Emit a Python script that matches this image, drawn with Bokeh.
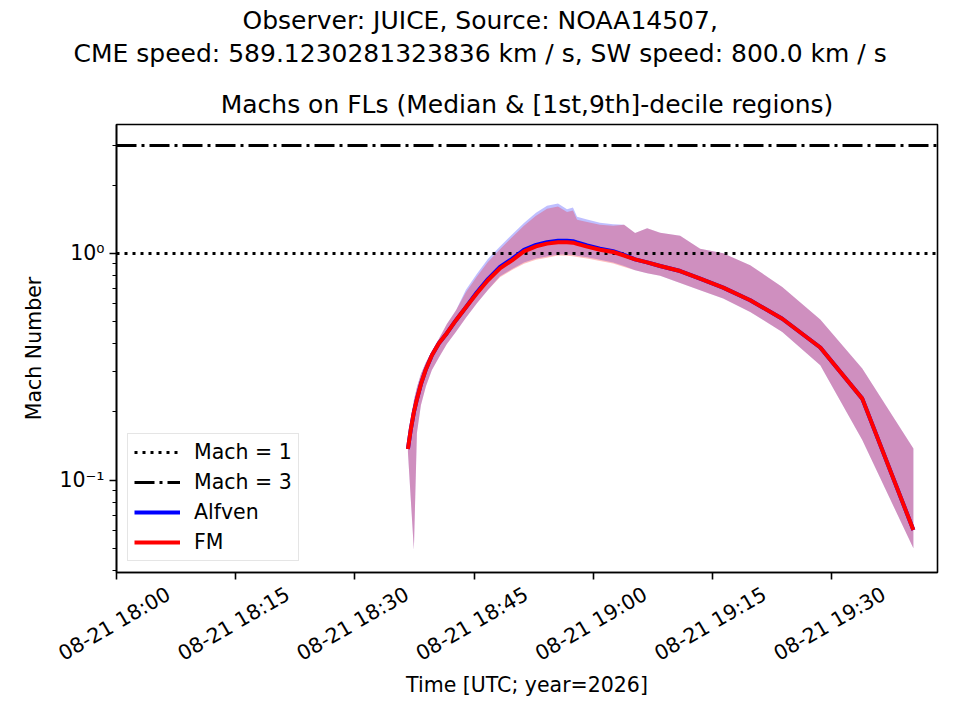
import math

import pandas as pd
from bokeh.embed import file_html
from bokeh.models import (DatetimeTickFormatter, FixedTicker, Legend, LegendItem, Range1d,
                          Title)
from bokeh.plotting import figure
from bokeh.resources import INLINE

FONT = "DejaVu Sans"
DAY = "2026-08-21 "

# tiempos de observacion (UTC, 2026-08-21)
obs_times = ["18:36:40", "18:37:02", "18:37:25", "18:37:48", "18:38:18", "18:38:56",
             "18:39:41", "18:40:34", "18:41:34", "18:42:43", "18:43:58", "18:45:21",
             "18:46:44", "18:48:15", "18:49:46", "18:51:16", "18:52:47", "18:54:10",
             "18:55:33", "18:56:41", "18:57:26", "18:57:57", "18:59:13", "19:00:50",
             "19:02:29", "19:03:52", "19:05:15", "19:06:46", "19:08:24", "19:10:55",
             "19:13:26", "19:16:20", "19:19:44", "19:23:46", "19:28:33", "19:33:50",
             "19:40:16"]

# Mach rapido-magnetosonico (FM): mediana, decil 1 y decil 9
fm_median = [0.1370, 0.1678, 0.1994, 0.2274, 0.2648, 0.3083, 0.3553, 0.4015, 0.4443,
             0.5069, 0.5782, 0.6665, 0.7605, 0.8589, 0.9314, 1.0205, 1.0736, 1.1034,
             1.1180, 1.1203, 1.1146, 1.1013, 1.0703, 1.0372, 1.0133, 0.9779, 0.9409,
             0.9126, 0.8792, 0.8355, 0.7729, 0.7060, 0.6209, 0.5146, 0.3842, 0.2286,
             0.0602]
fm_p10 = [0.1329, 0.0816, 0.0491, 0.1611, 0.2140, 0.2589, 0.3058, 0.3467, 0.3978,
          0.4510, 0.5194, 0.6022, 0.6890, 0.7838, 0.8432, 0.8991, 0.9362, 0.9563,
          0.9770, 0.9750, 0.9700, 0.9641, 0.9495, 0.9249, 0.9009, 0.8700, 0.8415,
          0.8163, 0.7960, 0.7400, 0.6877, 0.6317, 0.5512, 0.4500, 0.3210, 0.1500,
          0.0500]
fm_p90 = [0.1412, 0.1837, 0.2251, 0.2568, 0.2939, 0.3311, 0.3700, 0.4202, 0.4883,
          0.5609, 0.6733, 0.7895, 0.9166, 1.0414, 1.1763, 1.3216, 1.4636, 1.5737,
          1.6106, 1.5201, 1.5467, 1.4071, 1.3745, 1.3353, 1.3216, 1.3379, 1.2284,
          1.2912, 1.2309, 1.1942, 1.0478, 1.0000, 0.8854, 0.7107, 0.5105, 0.3105,
          0.1379]

# Mach de Alfven: mediana, decil 1 y decil 9
alf_median = [0.1370, 0.1678, 0.1994, 0.2274, 0.2648, 0.3083, 0.3553, 0.4015, 0.4443,
              0.5069, 0.5782, 0.6740, 0.7700, 0.8710, 0.9450, 1.0360, 1.0900, 1.1200,
              1.1350, 1.1370, 1.1310, 1.1170, 1.0840, 1.0480, 1.0220, 0.9850, 0.9409,
              0.9126, 0.8792, 0.8355, 0.7729, 0.7060, 0.6209, 0.5146, 0.3842, 0.2286,
              0.0602]
alf_p10 = [0.1329, 0.0816, 0.0491, 0.1611, 0.2140, 0.2589, 0.3058, 0.3467, 0.3978,
           0.4510, 0.5194, 0.6022, 0.6890, 0.7930, 0.8530, 0.9100, 0.9480, 0.9680,
           0.9890, 0.9870, 0.9820, 0.9760, 0.9610, 0.9360, 0.9110, 0.8790, 0.8415,
           0.8163, 0.7960, 0.7400, 0.6877, 0.6317, 0.5512, 0.4500, 0.3210, 0.1500,
           0.0500]
alf_p90 = [0.1412, 0.1837, 0.2251, 0.2568, 0.2939, 0.3311, 0.3700, 0.4202, 0.4883,
           0.5609, 0.6900, 0.8130, 0.9440, 1.0730, 1.2120, 1.3610, 1.5080, 1.6200,
           1.6580, 1.5640, 1.5920, 1.4480, 1.4100, 1.3650, 1.3450, 1.3379, 1.2284,
           1.2912, 1.2309, 1.1942, 1.0478, 1.0000, 0.8854, 0.7107, 0.5105, 0.3105,
           0.1379]

mach_levels = [1.0, 3.0]
x_tick_times = ["18:00", "18:15", "18:30", "18:45", "19:00", "19:15", "19:30"]
y_major = [0.1, 1.0]
y_major_labels = ["10\u207b\u00b9", "10\u2070"]
y_minor = [0.04, 0.05, 0.06, 0.07, 0.08, 0.09, 0.2, 0.3, 0.4, 0.5, 0.6, 0.7, 0.8, 0.9,
           2.0, 3.0]

t = pd.to_datetime([DAY + s for s in obs_times])
x_start = pd.Timestamp(DAY + "18:00:00")
x_end = pd.Timestamp(DAY + "19:43:18")

# las etiquetas giradas de Bokeh se anclan por su extremo derecho; se desplazan
# con un rango auxiliar para que queden centradas bajo cada marca
LABEL_SHIFT = pd.Timedelta(seconds=393)


def ms(ts):
    return ts.value / 1e6


p = figure(width=960, height=720, title=None,
           x_axis_type="datetime", y_axis_type="log",
           x_range=Range1d(x_start, x_end), y_range=Range1d(0.0391, 3.70),
           output_backend="svg", toolbar_location=None,
           min_border_left=116, min_border_right=23, min_border_top=124,
           min_border_bottom=148)
p.extra_x_ranges = {"lab": Range1d(x_start - LABEL_SHIFT, x_end - LABEL_SHIFT)}

# bandas de deciles
p.varea(x=t, y1=alf_p10, y2=alf_p90, fill_color="blue", fill_alpha=0.25)
p.varea(x=t, y1=fm_p10, y2=fm_p90, fill_color="red", fill_alpha=0.25)

r_m1 = p.hspan(y=[mach_levels[0]], line_color="black", line_width=3, line_dash="3 5")
r_m3 = p.hspan(y=[mach_levels[1]], line_color="black", line_width=3, line_dash="20 5 3 5")
r_alf = p.line(t, alf_median, line_color="blue", line_width=4)
r_fm = p.line(t, fm_median, line_color="red", line_width=4)

legend = Legend(items=[LegendItem(label="Mach = 1", renderers=[r_m1]),
                       LegendItem(label="Mach = 3", renderers=[r_m3]),
                       LegendItem(label="Alfven", renderers=[r_alf]),
                       LegendItem(label="FM", renderers=[r_fm])],
                location="bottom_left")
legend.label_text_font = FONT
legend.label_text_font_size = "20.5px"
legend.label_text_color = "black"
legend.glyph_width = 46
legend.glyph_height = 22
legend.label_height = 22
legend.spacing = 6
legend.padding = 6
legend.label_standoff = 14
legend.margin = 11
legend.border_line_color = "#cccccc"
legend.border_line_width = 1.5
legend.background_fill_alpha = 0.8
p.add_layout(legend)

# titulos: el primero queda pegado al marco
p.add_layout(Title(text="Machs on FLs (Median & [1st,9th]-decile regions)", align="center",
                   text_font=FONT, text_font_size="25px", text_font_style="normal",
                   text_color="black", standoff=12), "above")
p.add_layout(Title(text="CME speed: 589.1230281323836 km / s, SW speed: 800.0 km / s",
                   align="left", offset=-43, text_font=FONT, text_font_size="25px",
                   text_font_style="normal", text_color="black", standoff=27), "above")
p.add_layout(Title(text="Observer: JUICE, Source: NOAA14507,", align="left", offset=126,
                   text_font=FONT, text_font_size="25px", text_font_style="normal",
                   text_color="black", standoff=-23), "above")

# eje x: marcas reales como "minor", etiquetas en el rango auxiliar
xa = p.xaxis[0]
xa.x_range_name = "lab"
tick_ts = [pd.Timestamp(DAY + s) for s in x_tick_times]
xa.ticker = FixedTicker(ticks=[ms(ts) for ts in tick_ts],
                        minor_ticks=[ms(ts - LABEL_SHIFT) for ts in tick_ts])
xa.formatter = DatetimeTickFormatter(minutes="%m-%d %H:%M", hourmin="%m-%d %H:%M",
                                     hours="%m-%d %H:%M", minsec="%m-%d %H:%M")
xa.major_label_orientation = math.pi / 6
xa.axis_label = "Time [UTC; year=2026]"

ya = p.yaxis[0]
ya.ticker = FixedTicker(ticks=y_major, minor_ticks=y_minor)
ya.major_label_overrides = dict(zip(y_major, y_major_labels))
ya.axis_label = "Mach Number"

for ax in (xa, ya):
    ax.axis_line_color = "black"
    ax.axis_line_width = 1.6
    ax.major_tick_line_color = "black"
    ax.major_tick_line_width = 1.6
    ax.minor_tick_line_color = "black"
    ax.minor_tick_line_width = 1.2
    ax.major_tick_in = 0
    ax.major_tick_out = 7
    ax.minor_tick_in = 0
    ax.minor_tick_out = 4
    ax.major_label_text_font = FONT
    ax.major_label_text_font_size = "20.5px"
    ax.major_label_text_color = "black"
    ax.major_label_standoff = 5
    ax.axis_label_text_font = FONT
    ax.axis_label_text_font_size = "20.5px"
    ax.axis_label_text_font_style = "normal"
    ax.axis_label_text_color = "black"
    ax.axis_label_standoff = 10

xa.major_tick_line_color = None
xa.minor_tick_out = 7
xa.minor_tick_line_width = 1.6
xa.major_label_standoff = 13
xa.axis_label_standoff = -6

p.xgrid.grid_line_color = None
p.ygrid.grid_line_color = None
p.outline_line_color = "black"
p.outline_line_width = 1.6
p.outline_line_alpha = 1.0

open("out.html", "w").write(file_html(p, INLINE))
